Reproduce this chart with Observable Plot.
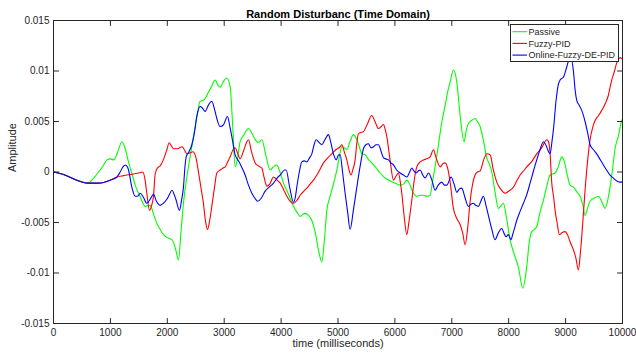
<!DOCTYPE html>
<html>
<head>
<meta charset="utf-8">
<script src="https://cdn.jsdelivr.net/npm/d3@7"></script>
<script src="https://cdn.jsdelivr.net/npm/@observablehq/plot@0.6"></script>
<style>
  body { margin: 0; background: #fff; }
  #chart { position: relative; width: 636px; height: 356px; font-family: "Liberation Sans", Arial, sans-serif; }
  #legend { position: absolute; left: 510px; top: 24px; }
</style>
</head>
<body>
<div id="chart"></div>
<script>
// Time (ms) and amplitude samples for each controller response
const passiveT = [0,200,400,610,675,791,870,938,1000,1060,1130,1201,1250,1318,1380,1436,1520,1611,1700,1760,1817,1875,1933,2000,2080,2140,2197,2240,2284,2343,2400,2460,2520,2577,2635,2680,2723,2780,2841,2890,2929,2990,3046,3105,3150,3193,3230,3280,3350,3427,3490,3544,3600,3662,3730,3808,3860,3925,3980,4042,4130,4218,4280,4335,4380,4423,4480,4540,4600,4660,4716,4760,4804,4862,4920,4980,5020,5068,5110,5155,5210,5272,5331,5380,5419,5477,5540,5594,5670,5741,5810,5887,6000,6092,6150,6209,6260,6300,6385,6443,6502,6561,6619,6660,6720,6766,6820,6883,6930,6971,7028,7088,7146,7216,7250,7292,7350,7409,7450,7497,7560,7614,7660,7703,7760,7819,7870,7907,7960,8024,8100,8170,8247,8317,8360,8405,8450,8493,8550,8610,8670,8727,8770,8815,8870,8932,8980,9030,9078,9140,9200,9254,9300,9342,9390,9430,9500,9576,9640,9693,9740,9781,9830,9869,9930,9986,10000];
const passiveY = [0,-0.0003,-0.0008,-0.0011,-0.0008,0.0000,0.0006,0.0012,0.0013,0.0012,0.0020,0.0030,0.0025,0.0010,-0.0002,-0.0013,-0.0024,-0.0034,-0.0033,-0.0042,-0.0051,-0.0057,-0.0062,-0.0065,-0.0067,-0.0075,-0.0087,-0.0060,-0.0031,-0.0005,0.0015,0.0035,0.0055,0.0070,0.0071,0.0074,0.0079,0.0085,0.0091,0.0086,0.0084,0.0090,0.0093,0.0084,0.0045,0.0005,0.0012,0.0030,0.0037,0.0043,0.0038,0.0032,0.0029,0.0032,0.0017,0.0002,0.0005,0.0007,0.0000,-0.0011,-0.0022,-0.0034,-0.0040,-0.0044,-0.0042,-0.0041,-0.0043,-0.0048,-0.0060,-0.0078,-0.0089,-0.0068,-0.0038,-0.0024,-0.0012,0.0002,0.0014,0.0025,0.0024,0.0022,0.0030,0.0037,0.0032,0.0024,0.0018,0.0017,0.0012,0.0009,0.0004,-0.0001,-0.0005,-0.0008,-0.0011,-0.0013,-0.0012,-0.0008,-0.0012,-0.0018,-0.0024,-0.0023,-0.0023,-0.0024,-0.0023,-0.0010,0.0010,0.0027,0.0048,0.0066,0.0080,0.0089,0.0101,0.0089,0.0056,0.0030,0.0040,0.0048,0.0051,0.0053,0.0050,0.0045,0.0030,0.0014,0.0008,0.0000,-0.0020,-0.0036,-0.0033,-0.0031,-0.0045,-0.0067,-0.0082,-0.0094,-0.0115,-0.0094,-0.0070,-0.0059,-0.0057,-0.0054,-0.0040,-0.0028,-0.0014,-0.0003,-0.0002,-0.0001,0.0005,0.0015,0.0010,-0.0003,-0.0013,-0.0015,-0.0020,-0.0024,-0.0032,-0.0043,-0.0035,-0.0029,-0.0026,-0.0024,-0.0030,-0.0036,-0.0028,-0.0015,0.0005,0.0023,0.0036,0.0051,0.0052];

const fuzzyT = [0,200,400,600,800,1000,1114,1200,1290,1400,1500,1570,1610,1640,1687,1720,1757,1787,1827,1875,1930,1992,2033,2070,2109,2180,2256,2300,2343,2400,2449,2500,2548,2590,2635,2670,2706,2745,2782,2830,2870,2929,2980,3017,3060,3105,3163,3193,3240,3280,3340,3398,3427,3480,3544,3600,3660,3700,3750,3800,3867,3930,3984,4040,4101,4160,4218,4280,4335,4400,4452,4510,4569,4650,4745,4820,4892,4960,5038,5068,5110,5155,5190,5226,5265,5301,5330,5360,5400,5447,5520,5594,5650,5712,5760,5800,5830,5858,5915,5975,6020,6063,6100,6121,6165,6209,6250,6297,6340,6385,6443,6502,6560,6619,6678,6720,6795,6840,6883,6930,6971,7028,7088,7146,7190,7234,7280,7322,7365,7409,7450,7497,7560,7614,7673,7730,7790,7860,7936,8000,8083,8140,8200,8260,8317,8400,8493,8580,8669,8700,8725,8757,8790,8815,8850,8891,8940,8991,9040,9078,9137,9180,9225,9260,9284,9342,9385,9430,9480,9518,9580,9635,9700,9752,9790,9811,9860,9899,9957,10000];
const fuzzyY = [0,-0.0003,-0.0008,-0.0011,-0.0011,-0.0008,-0.0005,-0.0004,-0.0003,-0.0002,-0.0001,0.0000,-0.0008,-0.0021,-0.0038,-0.0034,-0.0024,-0.0002,0.0004,0.0006,0.0012,0.0022,0.0029,0.0026,0.0023,0.0023,0.0025,0.0022,0.0018,0.0019,0.0020,0.0015,0.0000,-0.0015,-0.0031,-0.0048,-0.0057,-0.0048,-0.0034,-0.0015,-0.0001,0.0002,0.0004,0.0005,0.0010,0.0015,0.0023,0.0024,0.0018,0.0013,0.0021,0.0030,0.0032,0.0020,0.0009,0.0006,0.0004,-0.0005,-0.0014,-0.0012,-0.0005,-0.0008,-0.0011,-0.0017,-0.0024,-0.0029,-0.0031,-0.0028,-0.0023,-0.0019,-0.0016,-0.0012,-0.0008,-0.0001,0.0009,0.0014,0.0018,0.0022,0.0025,0.0027,0.0020,0.0012,0.0003,-0.0003,0.0003,0.0012,0.0028,0.0038,0.0039,0.0040,0.0048,0.0056,0.0050,0.0043,0.0045,0.0047,0.0042,0.0035,0.0012,-0.0008,-0.0004,-0.0001,-0.0012,-0.0021,-0.0045,-0.0062,-0.0048,-0.0028,-0.0008,0.0005,0.0010,0.0012,0.0013,0.0015,0.0022,0.0015,0.0005,0.0008,0.0009,0.0003,-0.0010,-0.0036,-0.0046,-0.0052,-0.0060,-0.0072,-0.0055,-0.0029,-0.0012,-0.0003,0.0000,0.0001,0.0012,0.0018,0.0017,0.0002,-0.0010,-0.0017,-0.0021,-0.0019,-0.0015,-0.0009,-0.0003,0.0001,0.0005,0.0010,0.0018,0.0024,0.0032,0.0030,0.0020,-0.0011,-0.0025,-0.0038,-0.0050,-0.0062,-0.0060,-0.0059,-0.0063,-0.0069,-0.0077,-0.0085,-0.0097,-0.0080,-0.0064,-0.0018,0.0010,0.0032,0.0045,0.0051,0.0056,0.0061,0.0068,0.0076,0.0086,0.0091,0.0100,0.0108,0.0113,0.0112];

const onlineT = [0,200,400,600,800,1000,1114,1172,1220,1260,1300,1318,1377,1436,1480,1524,1580,1640,1699,1757,1810,1875,1930,1992,2040,2080,2150,2214,2250,2284,2310,2332,2380,2431,2480,2519,2577,2620,2665,2720,2782,2830,2870,2929,2990,3057,3100,3134,3193,3240,3280,3368,3420,3486,3540,3590,3650,3720,3790,3867,3930,4000,4060,4089,4150,4218,4250,4276,4320,4364,4410,4452,4500,4540,4580,4616,4670,4716,4770,4833,4870,4920,4968,5010,5038,5080,5125,5170,5213,5270,5331,5390,5447,5490,5535,5580,5623,5670,5712,5760,5800,5840,5887,5930,5975,6030,6092,6150,6209,6260,6297,6335,6373,6410,6443,6490,6531,6590,6650,6707,6760,6824,6870,6912,6988,7040,7088,7130,7175,7235,7292,7335,7380,7420,7468,7510,7555,7600,7643,7700,7760,7820,7878,7920,7954,7995,8036,8080,8141,8200,8258,8320,8376,8430,8493,8550,8610,8660,8700,8727,8760,8786,8833,8870,8903,8962,9020,9060,9100,9137,9170,9196,9240,9284,9342,9390,9430,9490,9547,9600,9664,9720,9781,9840,9899,9950,10000];
const onlineY = [0,-0.0003,-0.0008,-0.0011,-0.0011,-0.0008,-0.0005,0.0000,0.0005,0.0007,0.0005,0.0002,-0.0015,-0.0024,-0.0024,-0.0021,-0.0025,-0.0031,-0.0027,-0.0022,-0.0029,-0.0033,-0.0031,-0.0027,-0.0022,-0.0018,-0.0027,-0.0038,-0.0028,-0.0015,0.0005,0.0015,0.0020,0.0027,0.0040,0.0055,0.0065,0.0063,0.0060,0.0066,0.0070,0.0062,0.0053,0.0045,0.0047,0.0055,0.0045,0.0035,0.0017,0.0012,0.0008,-0.0003,-0.0012,-0.0021,-0.0026,-0.0029,-0.0026,-0.0019,-0.0015,-0.0011,-0.0006,-0.0002,0.0002,0.0002,-0.0015,-0.0030,-0.0025,-0.0015,0.0000,0.0010,0.0011,0.0010,0.0014,0.0018,0.0027,0.0032,0.0029,0.0027,0.0032,0.0037,0.0030,0.0018,0.0012,0.0017,0.0017,0.0000,-0.0021,-0.0040,-0.0057,-0.0038,-0.0015,0.0006,0.0023,0.0027,0.0028,0.0024,0.0025,0.0027,0.0027,0.0020,0.0014,0.0013,0.0012,0.0009,0.0007,0.0002,-0.0001,-0.0003,-0.0005,0.0000,0.0004,0.0001,-0.0001,0.0001,0.0002,-0.0003,-0.0006,-0.0001,-0.0008,-0.0018,-0.0013,-0.0010,-0.0013,-0.0013,-0.0005,-0.0012,-0.0020,-0.0017,-0.0016,-0.0026,-0.0034,-0.0032,-0.0031,-0.0033,-0.0034,-0.0029,-0.0024,-0.0033,-0.0043,-0.0056,-0.0067,-0.0060,-0.0056,-0.0061,-0.0064,-0.0062,-0.0067,-0.0060,-0.0048,-0.0039,-0.0031,-0.0022,-0.0011,0.0000,0.0012,0.0022,0.0030,0.0026,0.0020,0.0018,0.0030,0.0042,0.0071,0.0086,0.0091,0.0094,0.0104,0.0111,0.0112,0.0100,0.0080,0.0071,0.0066,0.0061,0.0050,0.0038,0.0027,0.0022,0.0018,0.0013,0.0007,0.0002,-0.0003,-0.0006,-0.0009,-0.0010,-0.0010];

const seriesNames = ["Passive", "Fuzzy-PID", "Online-Fuzzy-DE-PID"];
const seriesColors = ["#00ff00", "#ff0000", "#0000ff"];

const xTicks = [0,1000,2000,3000,4000,5000,6000,7000,8000,9000,10000];
const yTicks = [-0.015,-0.01,-0.005,0,0.005,0.01,0.015];

const titleText = "Random Disturbanc (Time Domain)";
const xLabel = "time (milliseconds)";
const yLabel = "Amplitude";

const toRows = (ts, ys, name) => ts.map((t, i) => ({t, v: ys[i], name}));
const rows = [
  ...toRows(passiveT, passiveY, seriesNames[0]),
  ...toRows(fuzzyT, fuzzyY, seriesNames[1]),
  ...toRows(onlineT, onlineY, seriesNames[2])
];

const axisColor = "#262626";
// short inward tick drawn as a plain stroke
const tickShape = {draw(context, length) { context.moveTo(0, 0); context.lineTo(0, -length); }};
const tickOpts = {length: 5, anchor: "start", shape: tickShape, stroke: axisColor, strokeWidth: 1};

const chart = Plot.plot({
  width: 636,
  height: 356,
  marginLeft: 53,
  marginRight: 14,
  marginTop: 20,
  marginBottom: 33,
  style: {fontFamily: '"Liberation Sans", Arial, sans-serif', fontSize: "10px", color: axisColor, background: "#fff"},
  x: {domain: [0, 10000]},
  y: {domain: [-0.015, 0.015]},
  color: {domain: seriesNames, range: seriesColors},
  marks: [
    Plot.line(rows, {x: "t", y: "v", z: "name", stroke: "name", strokeWidth: 1.1, curve: "monotone-x"}),
    Plot.frame({stroke: axisColor, strokeWidth: 1}),
    Plot.vector(xTicks, {...tickOpts, x: d => d, frameAnchor: "bottom", rotate: 0}),
    Plot.vector(xTicks, {...tickOpts, x: d => d, frameAnchor: "top", rotate: 180}),
    Plot.vector(yTicks, {...tickOpts, y: d => d, frameAnchor: "left", rotate: 90}),
    Plot.vector(yTicks, {...tickOpts, y: d => d, frameAnchor: "right", rotate: -90}),
    Plot.axisX(xTicks, {tickSize: 0, tickPadding: 5, tickFormat: d => String(d), label: null, fill: axisColor}),
    Plot.axisY(yTicks, {tickSize: 0, tickPadding: 4, tickFormat: d => String(d), label: null, fill: axisColor}),
    Plot.text([titleText], {frameAnchor: "top", dy: -10, fontWeight: "bold", fontSize: 11, fill: "#000"}),
    Plot.text([xLabel], {frameAnchor: "bottom", dy: 23, fontSize: 11, fill: axisColor}),
    Plot.text([yLabel], {frameAnchor: "left", dx: -41, rotate: -90, fontSize: 11, fill: axisColor})
  ]
});

const container = document.getElementById("chart");
container.appendChild(chart);

// Legend box drawn over the upper-right corner of the axes
const legW = 109, legH = 38, rowH = 11.7;
const legend = d3.select(container).append("svg")
  .attr("id", "legend")
  .attr("width", legW)
  .attr("height", legH)
  .style("font-family", '"Liberation Sans", Arial, sans-serif')
  .style("font-size", "9px");
legend.append("rect")
  .attr("x", 0.5).attr("y", 0.5)
  .attr("width", legW - 1).attr("height", legH - 1)
  .attr("fill", "#fff").attr("stroke", axisColor);
const entry = legend.selectAll("g").data(seriesNames).join("g")
  .attr("transform", (d, i) => `translate(0,${7.7 + i * rowH})`);
entry.append("line")
  .attr("x1", 2.5).attr("x2", 17)
  .attr("stroke", (d, i) => seriesColors[i]).attr("stroke-width", 1.1);
entry.append("text")
  .attr("x", 18.5).attr("dy", "0.35em")
  .attr("fill", axisColor)
  .text(d => d);
</script>
</body>
</html>
